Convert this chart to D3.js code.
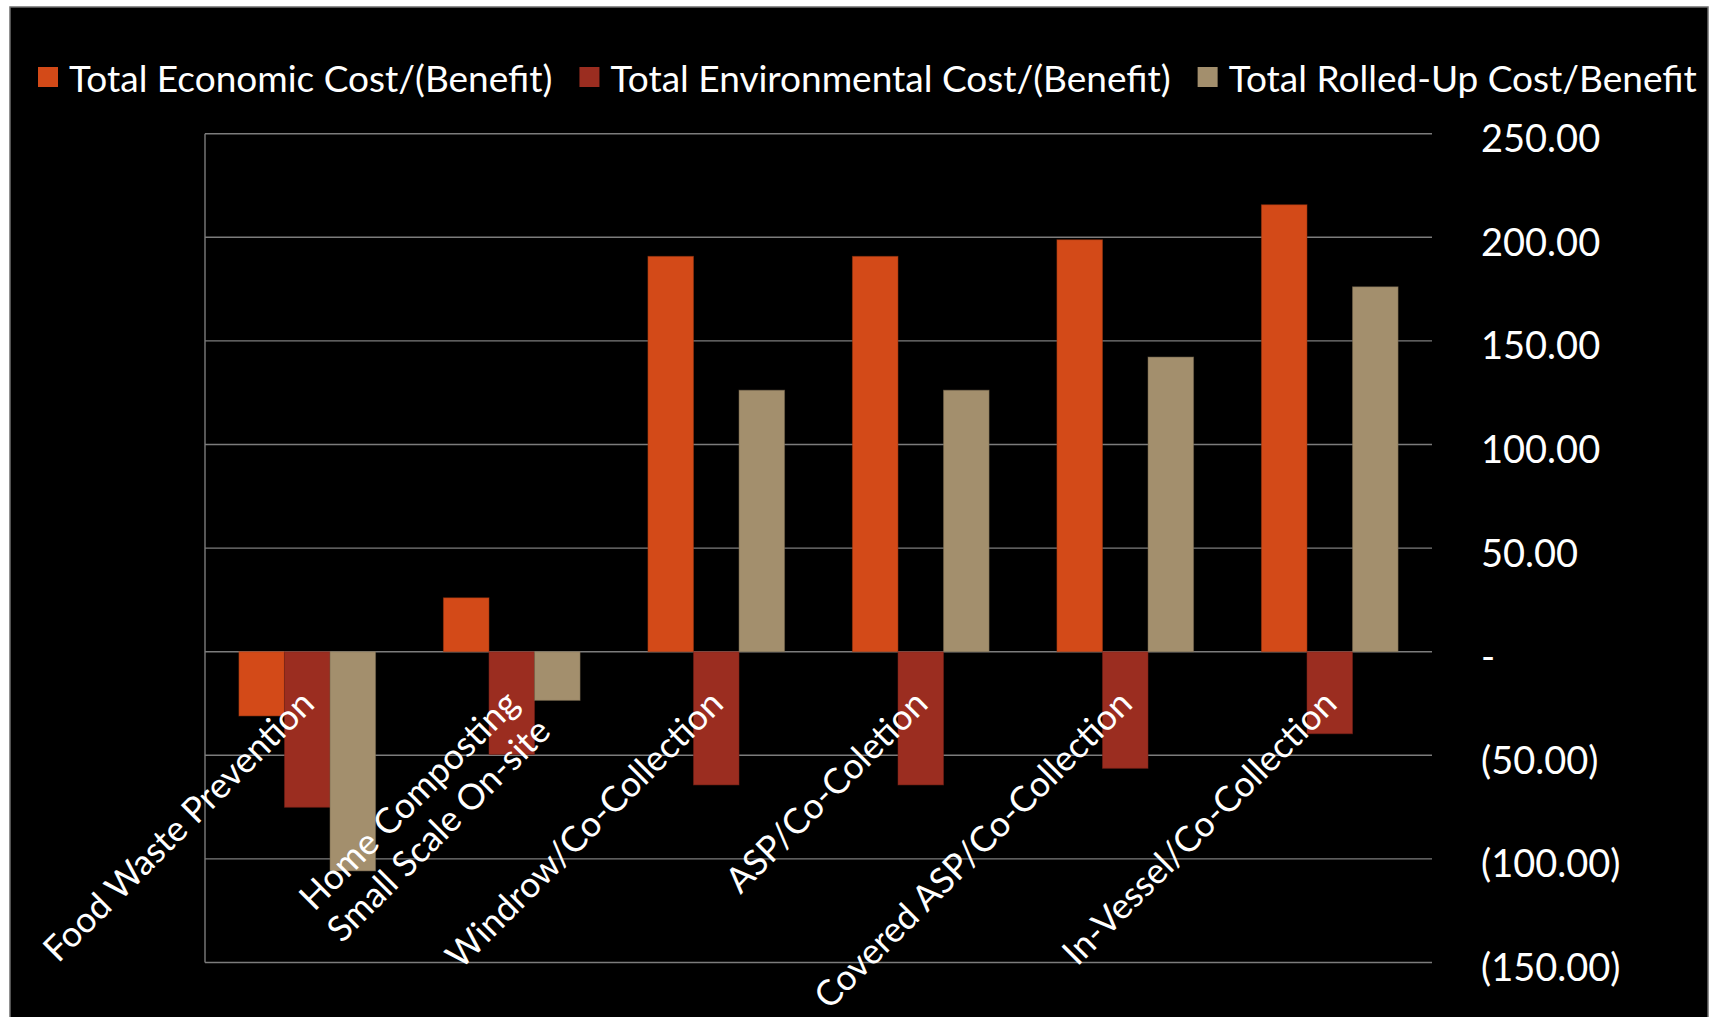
<!DOCTYPE html>
<html>
<head>
<meta charset="utf-8">
<script src="https://cdn.jsdelivr.net/npm/d3@7"></script>
<style>
  html, body { margin: 0; padding: 0; background: #ffffff; }
  svg { display: block; }
</style>
</head>
<body>
<svg id="chart" width="1710" height="1017"></svg>
<script>
// Cost/benefit per food-waste management option
const categories = [
  ["Food Waste Prevention"],
  ["Home Composting", "Small Scale On-site"],
  ["Windrow/Co-Collection"],
  ["ASP/Co-Coletion"],
  ["Covered ASP/Co-Collection"],
  ["In-Vessel/Co-Collection"]
];
const seriesNames = [
  "Total Economic Cost/(Benefit)",
  "Total Environmental Cost/(Benefit)",
  "Total Rolled-Up Cost/Benefit"
];
const economic      = [-31.0, 26.0, 190.8, 190.8, 198.8, 215.7];
const environmental = [-75.1, -49.6, -64.3, -64.3, -56.3, -39.6];
const rolledUp      = [-105.8, -23.5, 126.2, 126.2, 142.2, 176.1];
const yTicks = [250, 200, 150, 100, 50, 0, -50, -100, -150];

const seriesValues = [economic, environmental, rolledUp];
const colors = ["#d34a18", "#9b2d20", "#a38f6d"];

const svg = d3.select("#chart");
const FONT = "Lato, 'Open Sans', sans-serif";

// black chart panel
svg.append("rect")
  .attr("x", 10).attr("y", 7)
  .attr("width", 1698).attr("height", 1020)
  .attr("fill", "#000")
  .attr("stroke", "#6e6e6e").attr("stroke-width", 1.5);

const plot = { left: 205, right: 1432, top: 133.7, bottom: 962.5 };

const catKeys = categories.map((c, i) => i);
const x0 = d3.scaleBand().domain(catKeys).range([plot.left, plot.right]).paddingInner(0);
const x1 = d3.scaleBand().domain(d3.range(seriesNames.length))
  .range([0, x0.bandwidth()]).paddingInner(0).paddingOuter(0.745);
const y = d3.scaleLinear().domain([-150, 250]).range([plot.bottom, plot.top]);

const fmt = v => v === 0 ? "-" : (v < 0 ? "(" + d3.format(".2f")(-v) + ")" : d3.format(".2f")(v));

// horizontal gridlines
svg.append("g").selectAll("line").data(yTicks).join("line")
  .attr("x1", plot.left).attr("x2", plot.right)
  .attr("y1", d => y(d)).attr("y2", d => y(d))
  .attr("stroke", "#7c7c7c").attr("stroke-width", 1.4);

// vertical axis line
svg.append("line")
  .attr("x1", plot.left).attr("x2", plot.left)
  .attr("y1", y(250)).attr("y2", y(-150))
  .attr("stroke", "#7c7c7c").attr("stroke-width", 1.4);

// value axis on the right
const yAxis = d3.axisRight(y).tickValues(yTicks).tickFormat(fmt).tickSize(0).tickPadding(0);
const ya = svg.append("g").attr("transform", `translate(1481,0)`).call(yAxis);
ya.select(".domain").remove();
ya.selectAll("text")
  .attr("x", 0).attr("dy", null).attr("dominant-baseline", "auto")
  .attr("transform", "translate(0,18)")
  .attr("fill", "#fff")
  .attr("font-family", FONT).attr("font-size", 38)
  .attr("text-anchor", "start");

// bars
const groups = svg.append("g").selectAll("g").data(catKeys).join("g")
  .attr("transform", d => `translate(${x0(d)},0)`);
groups.selectAll("rect")
  .data(ci => seriesValues.map((vals, si) => ({ si, v: vals[ci] })))
  .join("rect")
  .attr("x", d => x1(d.si))
  .attr("width", x1.bandwidth())
  .attr("y", d => y(Math.max(0, d.v)))
  .attr("height", d => Math.abs(y(d.v) - y(0)))
  .attr("fill", d => colors[d.si])
  .attr("stroke", d => d3.color(colors[d.si]).darker(0.8))
  .attr("stroke-opacity", 0.5)
  .attr("stroke-width", 1);

// category labels, rotated
const labelSize = 35.5;
const lineH = 42;
const lab = svg.append("g").selectAll("g").data(catKeys).join("g")
  .attr("transform", d => `translate(${x0(d) + x0.bandwidth() / 2 + 9},${y(0) + 54}) rotate(-45)`);
lab.each(function(ci) {
  const g = d3.select(this);
  const lines = categories[ci];
  const first = g.append("text")
    .attr("text-anchor", "end")
    .attr("fill", "#fff")
    .attr("font-family", FONT).attr("font-size", labelSize)
    .text(lines[0]);
  const w1 = first.node().getComputedTextLength();
  lines.slice(1).forEach((t, k) => {
    g.append("text")
      .attr("text-anchor", "middle")
      .attr("x", -w1 / 2).attr("y", lineH * (k + 1))
      .attr("fill", "#fff")
      .attr("font-family", FONT).attr("font-size", labelSize)
      .text(t);
  });
});

// legend
const legend = svg.append("g");
let lx = 38;
seriesNames.forEach((name, i) => {
  legend.append("rect")
    .attr("x", lx).attr("y", 67).attr("width", 20).attr("height", 20)
    .attr("fill", colors[i]);
  const t = legend.append("text")
    .attr("x", lx + 31).attr("y", 92)
    .attr("fill", "#fff")
    .attr("font-family", FONT).attr("font-size", 37)
    .text(name);
  lx += 31 + t.node().getComputedTextLength() + 27;
});
</script>
</body>
</html>
